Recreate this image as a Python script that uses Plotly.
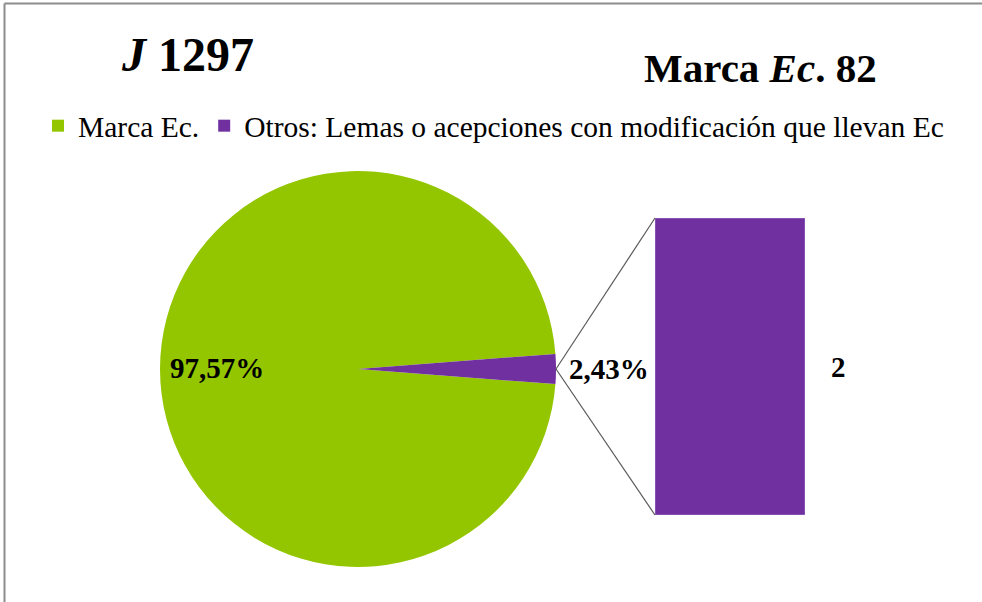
import plotly.graph_objects as go

# ---- data ----
categories = ["Marca Ec.", "Otros: Lemas o acepciones con modificación que llevan Ec"]
pie_pct = [97.57, 2.43]
bar_categories = ["Otros"]
bar_values = [2]
title_left = "<b><i>J</i> 1297</b>"
title_right = "<b>Marca <i>Ec</i>. 82</b>"

colors = ["#94C600", "#7030A0"]
W, H = 982, 602
FONT = "Liberation Serif, Times New Roman, serif"

def px_x(v):
    return v / W

def px_y(v):
    return 1 - v / H

# geometry (pixels)
cx, cy, r = 358, 369, 198
bar_l, bar_r, bar_t, bar_b = 655, 805, 218, 515

pie_labels = [f"{v:.2f}%".replace(".", ",") for v in pie_pct]
half = pie_pct[1] / 100 * 360 / 2

fig = go.Figure()
fig.add_trace(go.Pie(
    labels=categories,
    values=pie_pct,
    marker=dict(colors=colors, line=dict(width=0)),
    sort=False,
    direction="clockwise",
    rotation=90 + half,
    textinfo="none",
    hoverinfo="label+percent",
    domain=dict(x=[px_x(cx - r), px_x(cx + r)], y=[px_y(cy + r), px_y(cy - r)]),
    showlegend=True,
))
fig.add_trace(go.Bar(
    x=bar_categories,
    y=bar_values,
    width=1,
    marker=dict(color=colors[1], line=dict(color="#9B74C8", width=1)),
    showlegend=False,
    xaxis="x", yaxis="y",
))

frame = dict(color="#8C8C8C", width=2)
shapes = [
    dict(type="line", xref="paper", yref="paper",
         x0=px_x(cx + r), y0=px_y(cy), x1=px_x(bar_l), y1=px_y(bar_t),
         line=dict(color="#595959", width=1.2)),
    dict(type="line", xref="paper", yref="paper",
         x0=px_x(cx + r), y0=px_y(cy), x1=px_x(bar_l), y1=px_y(bar_b),
         line=dict(color="#595959", width=1.2)),
    dict(type="line", xref="paper", yref="paper",
         x0=px_x(4.5), x1=1.02, y0=px_y(3.5), y1=px_y(3.5), line=frame),
    dict(type="line", xref="paper", yref="paper",
         x0=px_x(4.5), x1=px_x(4.5), y0=-0.02, y1=px_y(3.5), line=frame),
]

annotations = [
    dict(text=title_left, xref="paper", yref="paper", x=px_x(187), y=px_y(55),
         xanchor="center", yanchor="middle", showarrow=False,
         font=dict(family=FONT, size=48, color="black")),
    dict(text=title_right, xref="paper", yref="paper", x=px_x(760), y=px_y(68),
         xanchor="center", yanchor="middle", showarrow=False,
         font=dict(family=FONT, size=41, color="black")),
    dict(text=f"<b>{pie_labels[0]}</b>", xref="paper", yref="paper", x=px_x(217), y=px_y(368),
         xanchor="center", yanchor="middle", showarrow=False,
         font=dict(family=FONT, size=29, color="black")),
    dict(text=f"<b>{pie_labels[1]}</b>", xref="paper", yref="paper", x=px_x(609), y=px_y(369),
         xanchor="center", yanchor="middle", showarrow=False,
         font=dict(family=FONT, size=29, color="black")),
    dict(text=f"<b>{bar_values[0]}</b>", xref="x", yref="y", x=0.5, y=bar_values[0] / 2,
         xanchor="left", yanchor="middle", xshift=24, showarrow=False,
         font=dict(family=FONT, size=29, color="black")),
]

fig.update_layout(
    width=W, height=H,
    margin=dict(l=0, r=0, t=0, b=0),
    paper_bgcolor="white", plot_bgcolor="white",
    xaxis=dict(domain=[px_x(bar_l), px_x(bar_r)], range=[-0.5, 0.5], visible=False, fixedrange=True),
    yaxis=dict(domain=[px_y(bar_b), px_y(bar_t)], range=[0, bar_values[0]], visible=False, fixedrange=True),
    legend=dict(orientation="h", x=px_x(38), y=px_y(126), xanchor="left", yanchor="middle",
                font=dict(family=FONT, size=29.5, color="black"), bgcolor="rgba(0,0,0,0)",
                itemwidth=30, traceorder="normal"),
    shapes=shapes,
    annotations=annotations,
    showlegend=True,
)

fig.write_html(
    "out.html",
    config={"displayModeBar": False},
    post_script="document.body.style.margin='0';document.body.style.overflow='hidden';",
)
